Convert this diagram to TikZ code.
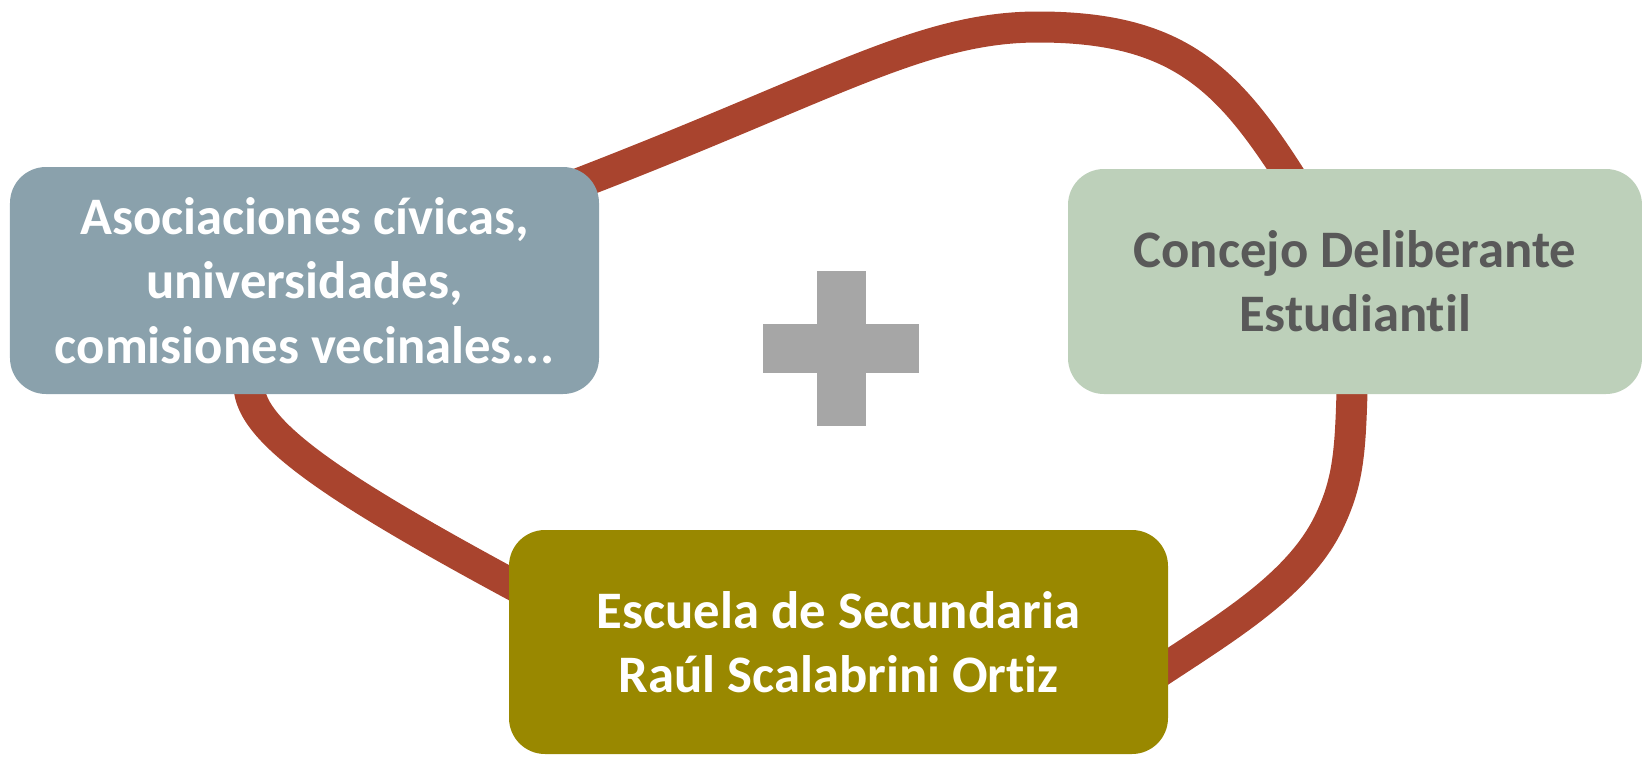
\documentclass[tikz,border=0pt]{standalone}
\usepackage{fontspec}
\setmainfont{Carlito}[Ligatures=CommonOff]
\usetikzlibrary{backgrounds}

\definecolor{grisazul}{HTML}{8AA1AC}
\definecolor{verdeclaro}{HTML}{BDD0BA}
\definecolor{oliva}{HTML}{998800}
\definecolor{ladrillo}{HTML}{A9442E}
\definecolor{grismedio}{HTML}{A6A6A6}
\definecolor{grisoscuro}{HTML}{595959}

\tikzset{
  caja/.style={rounded corners=0.36cm, inner sep=0pt, align=center,
    font=\fontsize{15}{18.3}\selectfont\bfseries},
  lazo/.style={line width=0.31cm, ladrillo, line join=round},
}

\begin{document}
\begin{tikzpicture}

\useasboundingbox (0,0) rectangle (16.42,-7.56);

% las tres cajas
\node[caja, fill=grisazul, text=white, minimum width=5.89cm, minimum height=2.27cm]
  (asoc) at (3.045,-2.805) {Asociaciones cívicas,\\universidades,\\comisiones vecinales...};
\node[caja, fill=verdeclaro, text=grisoscuro, minimum width=5.74cm, minimum height=2.25cm]
  (concejo) at (13.55,-2.815) {Concejo Deliberante\\Estudiantil};
\node[caja, fill=oliva, text=white, minimum width=6.59cm, minimum height=2.24cm]
  (escuela) at (8.385,-6.42) {Escuela de Secundaria\\Raúl Scalabrini Ortiz};

% el signo +
\fill[grismedio] (8.17,-2.71) rectangle (8.66,-4.26);
\fill[grismedio] (7.63,-3.24) rectangle (9.19,-3.73);

% puntos del lazo
\coordinate (cima) at (10.38,-0.27);
\coordinate (recodo) at (13.30,-5.20);
\coordinate (enlace) at (10.90,-7.20);
\coordinate (salida) at (5.60,-6.10);
\coordinate (entrada) at (2.49,-3.85);

\begin{scope}[on background layer]
\draw[lazo] (asoc.center) .. controls +(18:5) and +(180:1.5) .. (cima)
  .. controls +(0:1.8) and +(122:2) .. (concejo.center)
  .. controls +(-92:1.5) and +(65:0.6) .. (recodo)
  .. controls +(-115:0.9) and +(37:1.2) .. (enlace)
  -- (salida)
  .. controls +(152:2.4) and +(-90:0.5) .. (entrada)
  -- cycle;
\end{scope}

\end{tikzpicture}
\end{document}
